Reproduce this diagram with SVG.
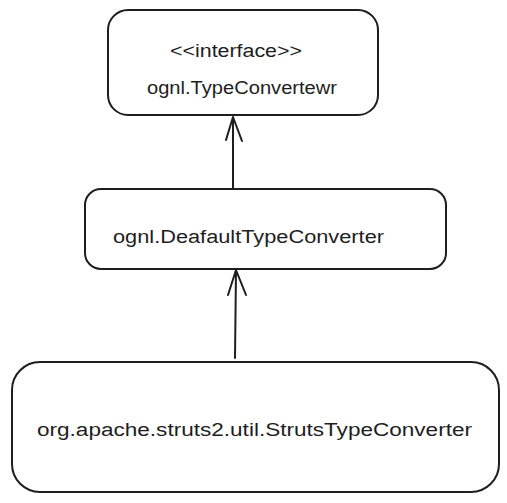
<svg xmlns="http://www.w3.org/2000/svg" width="507" height="503" viewBox="0 0 507 503">
<style>
.box{fill:#ffffff;stroke:#1e1e1e;stroke-width:2;}
.lbl{font-family:"Liberation Sans","DejaVu Sans",sans-serif;font-size:18px;fill:#1e1e1e;dominant-baseline:central;}
.edge{fill:none;stroke:#1e1e1e;stroke-width:2;stroke-linecap:round;stroke-linejoin:round;}
</style>
<rect width="507" height="503" fill="#ffffff"/>
<g id="connectors">
<path class="edge" d="M233,189 L233,117 M226,140 L233,117 L242,141"/>
<path class="edge" d="M235,358 L236,270 M228,295 L236,270 L246,295"/>
</g>
<g id="node-typeconverter">
<rect class="box" x="108" y="10" width="270" height="105" rx="20"/>
<text class="lbl" x="170" y="51" textLength="132" lengthAdjust="spacingAndGlyphs">&lt;&lt;interface&gt;&gt;</text>
<text class="lbl" x="147" y="88" textLength="190" lengthAdjust="spacingAndGlyphs">ognl.TypeConvertewr</text>
</g>
<g id="node-defaulttypeconverter">
<rect class="box" x="85" y="189" width="361" height="80" rx="16"/>
<text class="lbl" x="113" y="237" textLength="271" lengthAdjust="spacingAndGlyphs">ognl.DeafaultTypeConverter</text>
</g>
<g id="node-strutstypeconverter">
<rect class="box" x="12" y="362" width="487" height="130" rx="28"/>
<text class="lbl" x="37" y="430" textLength="435" lengthAdjust="spacingAndGlyphs">org.apache.struts2.util.StrutsTypeConverter</text>
</g>
</svg>
